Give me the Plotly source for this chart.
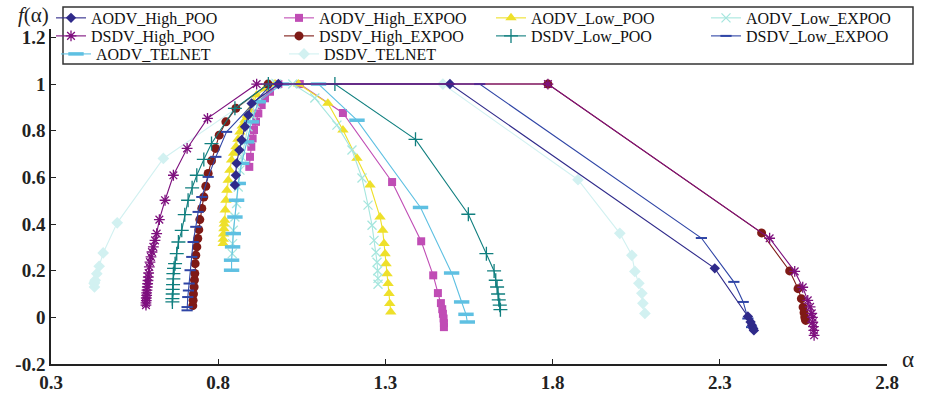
import plotly.graph_objects as go

# ---------------- data (alpha, f(alpha)) ----------------
AODV_HIGH_POO_ALPHA = [0.850, 0.853, 0.855, 0.863, 0.870, 0.880, 0.890, 0.900, 0.980, 1.493, 2.285, 2.384, 2.392, 2.396, 2.400, 2.402]
AODV_HIGH_POO_F = [0.567, 0.609, 0.660, 0.717, 0.760, 0.817, 0.867, 0.917, 1.000, 1.000, 0.210, 0.004, -0.020, -0.034, -0.048, -0.056]

AODV_HIGH_EXPOO_ALPHA = [0.893, 0.895, 0.899, 0.903, 0.907, 0.913, 0.920, 0.930, 0.940, 0.955, 0.980, 1.044, 1.173, 1.320, 1.407, 1.443, 1.457, 1.466, 1.470, 1.472, 1.474, 1.475, 1.475]
AODV_HIGH_EXPOO_F = [0.645, 0.688, 0.731, 0.767, 0.803, 0.838, 0.874, 0.910, 0.939, 0.967, 1.000, 1.000, 0.876, 0.580, 0.326, 0.180, 0.104, 0.061, 0.035, 0.015, -0.005, -0.025, -0.042]

AODV_LOW_POO_ALPHA = [0.815, 0.815, 0.816, 0.817, 0.818, 0.819, 0.821, 0.823, 0.826, 0.830, 0.835, 0.840, 0.846, 0.853, 0.859, 0.865, 0.872, 0.880, 0.887, 0.895, 0.905, 0.915, 0.940, 0.970, 1.040, 1.128, 1.173, 1.215, 1.254, 1.284, 1.292, 1.296, 1.299, 1.302, 1.305, 1.308, 1.311, 1.313, 1.316]
AODV_LOW_POO_F = [0.316, 0.335, 0.357, 0.380, 0.400, 0.416, 0.460, 0.502, 0.545, 0.588, 0.630, 0.674, 0.703, 0.731, 0.763, 0.795, 0.820, 0.845, 0.866, 0.888, 0.920, 0.953, 0.980, 1.000, 1.000, 0.918, 0.803, 0.682, 0.567, 0.430, 0.373, 0.316, 0.273, 0.230, 0.187, 0.145, 0.102, 0.059, 0.023]

AODV_LOW_EXPOO_ALPHA = [0.842, 0.843, 0.845, 0.850, 0.855, 0.860, 0.865, 0.870, 0.880, 0.889, 0.900, 0.910, 0.975, 1.023, 1.089, 1.155, 1.200, 1.230, 1.248, 1.260, 1.266, 1.272, 1.275, 1.277, 1.278, 1.278]
AODV_LOW_EXPOO_F = [0.273, 0.316, 0.373, 0.430, 0.488, 0.559, 0.631, 0.688, 0.752, 0.817, 0.867, 0.918, 1.000, 1.000, 0.940, 0.824, 0.717, 0.597, 0.481, 0.395, 0.330, 0.279, 0.236, 0.200, 0.167, 0.142]

DSDV_HIGH_POO_ALPHA = [0.584, 0.584, 0.585, 0.585, 0.586, 0.586, 0.587, 0.588, 0.589, 0.590, 0.591, 0.592, 0.594, 0.596, 0.599, 0.602, 0.606, 0.611, 0.616, 0.624, 0.641, 0.666, 0.707, 0.768, 0.915, 1.786, 2.449, 2.524, 2.548, 2.563, 2.570, 2.575, 2.577, 2.578, 2.580, 2.581, 2.582]
DSDV_HIGH_POO_F = [0.052, 0.062, 0.072, 0.083, 0.094, 0.105, 0.117, 0.130, 0.144, 0.158, 0.173, 0.190, 0.216, 0.237, 0.259, 0.280, 0.302, 0.330, 0.359, 0.419, 0.502, 0.609, 0.724, 0.853, 1.000, 1.000, 0.339, 0.197, 0.129, 0.073, 0.045, 0.017, 0.000, -0.021, -0.040, -0.056, -0.077]

DSDV_HIGH_EXPOO_ALPHA = [0.724, 0.725, 0.726, 0.728, 0.729, 0.730, 0.731, 0.733, 0.736, 0.739, 0.742, 0.745, 0.751, 0.757, 0.763, 0.770, 0.780, 0.792, 0.803, 0.823, 0.853, 0.949, 1.786, 2.425, 2.509, 2.534, 2.544, 2.549, 2.552, 2.554, 2.556, 2.557]
DSDV_HIGH_EXPOO_F = [0.050, 0.073, 0.100, 0.130, 0.160, 0.188, 0.230, 0.266, 0.302, 0.338, 0.376, 0.419, 0.467, 0.516, 0.562, 0.617, 0.671, 0.724, 0.781, 0.838, 0.896, 1.000, 1.000, 0.362, 0.199, 0.123, 0.080, 0.044, 0.020, 0.001, -0.008, -0.013]

DSDV_LOW_POO_ALPHA = [0.663, 0.663, 0.664, 0.664, 0.665, 0.666, 0.666, 0.668, 0.671, 0.676, 0.681, 0.691, 0.700, 0.710, 0.722, 0.736, 0.757, 0.780, 0.850, 0.950, 1.149, 1.390, 1.548, 1.602, 1.625, 1.630, 1.634, 1.637, 1.639, 1.642, 1.644]
DSDV_LOW_POO_F = [0.066, 0.080, 0.100, 0.120, 0.140, 0.165, 0.187, 0.210, 0.230, 0.273, 0.323, 0.373, 0.440, 0.502, 0.555, 0.609, 0.677, 0.745, 0.896, 1.000, 1.000, 0.763, 0.442, 0.273, 0.199, 0.159, 0.130, 0.100, 0.075, 0.052, 0.033]

DSDV_LOW_EXPOO_ALPHA = [0.707, 0.707, 0.709, 0.711, 0.713, 0.716, 0.721, 0.725, 0.733, 0.740, 0.751, 0.770, 0.793, 0.825, 0.960, 1.582, 2.245, 2.342, 2.370, 2.384, 2.395]
DSDV_LOW_EXPOO_F = [0.030, 0.044, 0.087, 0.115, 0.145, 0.202, 0.259, 0.323, 0.388, 0.452, 0.516, 0.602, 0.688, 0.795, 1.000, 1.000, 0.340, 0.152, 0.066, -0.005, -0.042]

AODV_TELNET_ALPHA = [0.840, 0.840, 0.843, 0.845, 0.850, 0.855, 0.860, 0.870, 0.885, 0.900, 0.920, 0.990, 1.100, 1.215, 1.405, 1.498, 1.528, 1.541, 1.545]
AODV_TELNET_F = [0.202, 0.245, 0.302, 0.359, 0.430, 0.502, 0.574, 0.660, 0.752, 0.838, 0.924, 1.000, 1.000, 0.845, 0.471, 0.190, 0.066, 0.013, -0.020]

DSDV_TELNET_ALPHA = [0.430, 0.429, 0.430, 0.432, 0.437, 0.444, 0.456, 0.498, 0.636, 0.960, 1.472, 1.876, 2.001, 2.037, 2.046, 2.058, 2.067, 2.070, 2.076]
DSDV_TELNET_F = [0.130, 0.145, 0.150, 0.159, 0.187, 0.219, 0.276, 0.405, 0.681, 1.000, 1.000, 0.590, 0.360, 0.266, 0.197, 0.146, 0.103, 0.060, 0.017]

X_TICKS = [0.3, 0.8, 1.3, 1.8, 2.3, 2.8]
Y_TICKS = [-0.2, 0, 0.2, 0.4, 0.6, 0.8, 1.0, 1.2]
Y_TICK_TEXT = ["-0.2", "0", "0.2", "0.4", "0.6", "0.8", "1", "1.2"]

# ---------------- styling ----------------
SERIF = "Liberation Serif, Times New Roman, serif"

# legend column widths
COL_W = [183, 167, 170, 160]

# (name, alpha, f, color, symbol, size, marker line width, legend, rank/column)
series = [
    ("DSDV_TELNET", DSDV_TELNET_ALPHA, DSDV_TELNET_F, "#D2F1F1", "diamond", 9, 0, "legend3", 2),
    ("AODV_High_EXPOO", AODV_HIGH_EXPOO_ALPHA, AODV_HIGH_EXPOO_F, "#C04DB5", "square", 8, 0, "legend", 2),
    ("AODV_Low_POO", AODV_LOW_POO_ALPHA, AODV_LOW_POO_F, "#EEE02A", "triangle-up", 10, 0, "legend", 3),
    ("DSDV_High_EXPOO", DSDV_HIGH_EXPOO_ALPHA, DSDV_HIGH_EXPOO_F, "#7F1A16", "circle", 9, 0, "legend2", 2),
    ("DSDV_Low_EXPOO", DSDV_LOW_EXPOO_ALPHA, DSDV_LOW_EXPOO_F, "#2F45A6", "line-ew-open", 8, 2, "legend2", 4),
    ("DSDV_Low_POO", DSDV_LOW_POO_ALPHA, DSDV_LOW_POO_F, "#107F7F", "cross-thin-open", 10, 1.3, "legend2", 3),
    ("AODV_Low_EXPOO", AODV_LOW_EXPOO_ALPHA, AODV_LOW_EXPOO_F, "#A6E6DE", "x-thin-open", 9, 1.3, "legend", 4),
    ("AODV_TELNET", AODV_TELNET_ALPHA, AODV_TELNET_F, "#5EC0E2", "line-ew-open", 11, 3.5, "legend3", 1),
    ("AODV_High_POO", AODV_HIGH_POO_ALPHA, AODV_HIGH_POO_F, "#2F2A8A", "diamond", 8, 0, "legend", 1),
    ("DSDV_High_POO", DSDV_HIGH_POO_ALPHA, DSDV_HIGH_POO_F, "#7E107E", "asterisk-open", 9, 1.3, "legend2", 1),
]

fig = go.Figure()
for name, xs, ys, color, symbol, size, mlw, leg, rank in series:
    marker = dict(symbol=symbol, size=size, color=color)
    if mlw:
        marker["line"] = dict(color=color, width=mlw)
    fig.add_trace(go.Scatter(
        x=xs, y=ys, name=name, mode="lines+markers",
        line=dict(color=color, width=1.1),
        marker=marker, legend=leg, legendrank=rank,
        legendwidth=COL_W[rank - 1],
    ))

# px -> paper helpers (plot area: x 51..887, y 29..363.6)
L, R, T, B = 51, 39, 29, 29.4
W, H = 926, 393
PW, PH = W - L - R, H - T - B
def px_x(px):
    return (px - L) / PW
def px_y(py):
    return (H - B - py) / PH

# width of a full 4-entry legend row (40 px symbol area + width, 5 px gaps)
ROW_W = sum(40 + w for w in COL_W) + 5 * 3
LEG_LEFT = 56

legend_common = dict(
    orientation="h", bgcolor="rgba(0,0,0,0)", borderwidth=0,
    font=dict(family=SERIF, size=16, color="#111"),
    entrywidthmode="pixels", yanchor="top",
    itemclick=False, itemdoubleclick=False,
)

fig.update_layout(
    width=W, height=H,
    margin=dict(l=L, r=R, t=T, b=B, autoexpand=False),
    paper_bgcolor="white", plot_bgcolor="white",
    showlegend=True,
    legend=dict(legend_common, x=px_x(LEG_LEFT + ROW_W), xanchor="right", y=px_y(1)),
    legend2=dict(legend_common, x=px_x(LEG_LEFT + ROW_W), xanchor="right", y=px_y(19)),
    legend3=dict(legend_common, x=px_x(LEG_LEFT), xanchor="left", y=px_y(37)),
    xaxis=dict(
        range=[0.3, 2.8], tickvals=X_TICKS, ticktext=[str(v) for v in X_TICKS],
        showline=True, linecolor="#222", linewidth=1.5, mirror=False,
        ticks="inside", ticklen=5, tickwidth=1.2, tickcolor="#222",
        showgrid=False, zeroline=False,
        tickfont=dict(family=SERIF, size=19, color="#222", weight="bold"),
    ),
    yaxis=dict(
        range=[-0.2, 1.236], tickvals=Y_TICKS, ticktext=Y_TICK_TEXT,
        showline=True, linecolor="#222", linewidth=1.5, mirror=False,
        ticks="inside", ticklen=5, tickwidth=1.2, tickcolor="#222",
        showgrid=False, zeroline=False,
        tickfont=dict(family=SERIF, size=19, color="#222", weight="bold"),
    ),
    shapes=[dict(
        type="rect", xref="paper", yref="paper",
        x0=px_x(63), x1=px_x(913), y0=px_y(64), y1=px_y(7),
        line=dict(color="#333", width=1.5), fillcolor="white", layer="above",
    )],
    annotations=[
        dict(text="<i>f</i>(α)", x=px_x(33), y=px_y(15), xref="paper", yref="paper",
             showarrow=False, xanchor="center", yanchor="middle",
             font=dict(family=SERIF, size=21, color="#222")),
        dict(text="α", x=px_x(908), y=px_y(359), xref="paper", yref="paper",
             showarrow=False, xanchor="center", yanchor="middle",
             font=dict(family=SERIF, size=23, color="#222")),
    ],
)

fig.write_html("out.html", config={"displayModeBar": False},
               post_script="document.body.style.margin='0px';")
